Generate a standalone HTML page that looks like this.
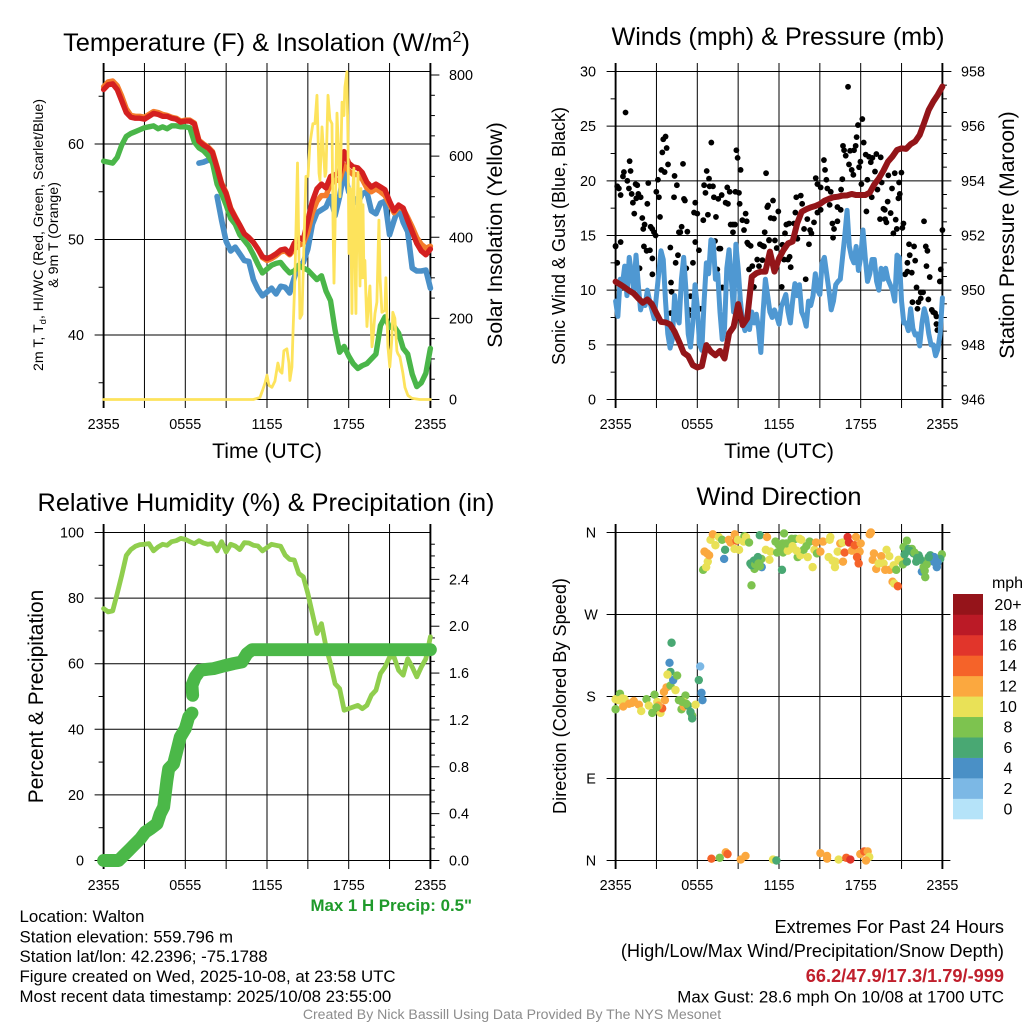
<!DOCTYPE html>
<html>
<head>
<meta charset="utf-8">
<title>Walton Mesonet Meteogram</title>
<style>
html,body{margin:0;padding:0;background:#fff;}
svg{display:block;font-family:"Liberation Sans",sans-serif;}
text{fill:#000;}
</style>
</head>
<body>
<svg id="chart" width="1024" height="1024" viewBox="0 0 1024 1024" xmlns="http://www.w3.org/2000/svg">
<rect x="0" y="0" width="1024" height="1024" fill="#fff"/>
<g id="temp-panel"></g>
<g id="wind-panel"></g>
<g id="rh-panel"></g>
<g id="dir-panel"></g>
<g id="legend"></g>

<text x="266.5" y="51" font-size="25.4" text-anchor="middle">Temperature (F) &amp; Insolation (W/m<tspan font-size="16" dy="-9">2</tspan><tspan dy="9">)</tspan></text>
<text x="778" y="45" font-size="25.2" text-anchor="middle">Winds (mph) &amp; Pressure (mb)</text>
<text x="266" y="511" font-size="25.3" text-anchor="middle">Relative Humidity (%) &amp; Precipitation (in)</text>
<text x="779" y="505" font-size="25.4" text-anchor="middle">Wind Direction</text>

<text x="267" y="458" font-size="21.2" text-anchor="middle">Time (UTC)</text>
<text x="779" y="458" font-size="21.2" text-anchor="middle">Time (UTC)</text>

<text transform="translate(43,235) rotate(-90)" font-size="14.15" text-anchor="middle">2m T, T<tspan font-size="9.5" dy="3">d</tspan><tspan dy="-3">, HI/WC (Red, Green, Scarlet/Blue)</tspan></text>
<text transform="translate(58,235) rotate(-90)" font-size="14.15" text-anchor="middle">&amp; 9m T (Orange)</text>
<text transform="translate(502,235) rotate(-90)" font-size="21.1" text-anchor="middle">Solar Insolation (Yellow)</text>
<text transform="translate(565,236) rotate(-90)" font-size="18" text-anchor="middle">Sonic Wind &amp; Gust (Blue, Black)</text>
<text transform="translate(1014,235) rotate(-90)" font-size="21.1" text-anchor="middle">Station Pressure (Maroon)</text>
<text transform="translate(43,696.5) rotate(-90)" font-size="21" text-anchor="middle">Percent &amp; Precipitation</text>
<text transform="translate(566,696) rotate(-90)" font-size="18.15" text-anchor="middle">Direction (Colored By Speed)</text>

<text x="472" y="911" font-size="16.85" font-weight="bold" text-anchor="end" style="fill:#1f9a2b">Max 1 H Precip: 0.5"</text>

<g font-size="16.85">
<text x="19.5" y="922">Location: Walton</text>
<text x="19.5" y="942.5">Station elevation: 559.796 m</text>
<text x="19.5" y="962">Station lat/lon: 42.2396; -75.1788</text>
<text x="19.5" y="982">Figure created on Wed, 2025-10-08, at 23:58 UTC</text>
<text x="19.5" y="1002">Most recent data timestamp: 2025/10/08 23:55:00</text>
</g>

<g font-size="18.2" text-anchor="end">
<text x="1004" y="933">Extremes For Past 24 Hours</text>
<text x="1004" y="957">(High/Low/Max Wind/Precipitation/Snow Depth)</text>
<text x="1004" y="982" font-weight="bold" style="fill:#c01f2c">66.2/47.9/17.3/1.79/-999</text>
<text x="1004" y="1002.5" font-size="16.9">Max Gust: 28.6 mph On 10/08 at 1700 UTC</text>
</g>
<text x="512" y="1019" font-size="14.08" text-anchor="middle" style="fill:#8c8c8c">Created By Nick Bassill Using Data Provided By The NYS Mesonet</text>
</svg>

<script>
// ---------- chart data ----------
const timeLabels = ['2355','0555','1155','1755','2355'];
const tempTicks = [60,50,40];
const solarTicks = [0,200,400,600,800];
const windTicks = [0,5,10,15,20,25,30];
const pressureTicks = [946,948,950,952,954,956,958];
const rhTicks = [0,20,40,60,80,100];
const rainTicks = [0,0.4,0.8,1.2,1.6,2.0,2.4];
const dirTicks = [0,90,180,270,360];
const dirTickLabels = ['N','E','S','W','N'];
const legendLabels = ['0','2','4','6','8','10','12','14','16','18','20+'];
const legendColors = ['#b5e3f9','#7cb8e5','#4a90c6','#49a873','#7dc34f','#e9e157','#fba83f','#f56329','#e1352b','#bb1a26','#95141a'];

const tempF = [65.7,66.2,66.3,65.7,64.5,63.3,62.8,62.7,62.7,62.6,62.9,63.2,63.1,62.9,62.9,62.7,62.6,62.3,62.4,62.4,62.1,60.3,59.9,59.6,59.1,57.5,55.8,54.8,53.2,52.3,51.5,50.6,50.2,49.7,49.0,48.2,48.0,48.2,48.5,48.9,49.0,48.5,49.6,50.2,50.0,52.0,54.0,55.3,55.8,55.4,56.6,56.8,57.0,59.2,58.0,57.6,57.5,57.0,56.0,55.5,55.8,55.5,55.2,54.0,53.0,53.6,53.3,52.0,50.8,49.6,48.8,48.4,49.0];
const temp9mF = [66.0,66.5,66.6,66.1,65.0,63.7,63.0,62.9,62.9,62.8,63.1,63.4,63.3,63.1,63.0,62.8,62.7,62.4,62.5,62.5,62.2,60.4,60.0,59.7,59.2,57.6,55.9,54.9,53.3,52.4,51.5,50.6,50.2,49.7,49.0,48.1,47.8,48.0,48.3,48.7,48.8,48.4,49.0,49.4,49.6,50.8,52.8,54.0,54.6,54.6,55.8,56.2,56.2,57.8,57.2,56.8,56.8,56.3,55.4,55.0,55.3,55.0,54.6,53.7,52.8,53.4,53.2,52.3,51.3,50.2,49.5,49.1,49.3];
const dewpointF = [58.2,58.1,58.0,58.6,59.9,60.8,61.1,61.3,61.5,61.7,61.8,61.9,61.6,61.8,61.6,61.9,61.9,61.8,61.8,61.7,60.2,59.6,59.3,58.8,58.0,55.8,54.8,53.6,52.2,51.6,50.5,49.9,49.3,48.4,47.4,46.5,46.9,47.3,47.5,47.6,47.0,46.5,46.7,47.3,47.0,46.8,46.3,45.8,46.2,44.6,43.6,40.5,38.2,38.8,37.8,37.0,36.5,36.8,37.0,37.5,38.0,41.0,41.9,40.8,40.9,40.2,38.6,38.0,35.9,34.6,35.0,36.0,38.6];
const windChillF = [null,null,null,null,null,null,null,null,null,null,null,null,null,null,null,null,null,null,null,null,null,58.0,58.1,58.3,null,54.5,52.0,49.8,48.8,49.2,48.5,47.8,47.7,45.8,44.8,44.1,44.5,44.9,44.3,45.1,45.0,44.4,46.0,47.3,47.6,49.0,51.6,52.8,53.1,53.4,54.5,52.5,54.5,57.2,55.0,54.4,53.8,54.8,55.0,53.0,52.7,53.8,54.0,50.5,52.0,53.4,51.8,50.8,47.0,46.7,46.7,46.8,44.9];

const solarHours = [0,11,11.48,11.7,11.85,12,12.14,12.36,12.58,12.8,12.95,13.1,13.24,13.46,13.61,13.68,13.83,13.9,14.05,14.24,14.42,14.57,14.71,14.86,15.01,15.15,15.37,15.52,15.67,15.82,15.89,16.04,16.26,16.33,16.48,16.62,16.77,16.85,16.92,16.99,17.14,17.21,17.36,17.51,17.65,17.72,17.87,17.95,18.02,18.1,18.16,18.24,18.31,18.38,18.46,18.53,18.61,18.68,18.76,18.83,18.9,18.97,19.05,19.12,19.19,19.26,19.34,19.48,19.56,19.71,19.78,19.93,20.07,20.22,20.3,20.44,20.66,20.73,20.88,21.02,21.17,21.24,21.39,21.54,21.61,21.76,21.98,22.13,22.35,22.64,23.22,24];
const solarWm2 = [0,0,5,25,40,60,35,30,45,90,70,65,120,125,90,47,80,155,300,583,200,210,380,550,550,630,680,680,750,558,540,672,550,560,750,690,680,430,287,410,706,650,500,733,700,770,808,632,360,520,430,212,520,570,350,212,450,560,420,280,520,300,480,300,343,260,180,250,280,130,150,212,240,442,300,215,220,300,130,80,150,215,200,120,113,105,65,30,10,3,0,0];

const sustainedWind = [9,7.6,11,10.5,12.2,9.5,13,11.5,10,13.2,10.5,8.2,9,8.6,10,9,8.2,7.4,9.5,11.5,13.6,12.8,9,6,4.7,5.5,9.5,7.5,7,11,13,10,6,4.8,7,10.5,8.5,5,4.5,9,12.5,11.5,14.6,14.5,11,11.5,8,5.5,6.5,12,13.7,11,8,14.2,12,9,7,6.3,7.5,6.4,8,7,7.8,6.5,4.3,8,11,9.5,8,7.5,8.2,7.6,6.9,8.5,9,9.6,8,7,9,10.6,9.5,10.5,8,7.5,6.7,9,8.6,9.5,11.5,10,9.6,12.5,13,11.5,10,8.2,9,10.5,10.8,11,13,15,17.3,14,13,12.5,14,11.8,13,15.5,13,10.8,11.5,12.8,12.8,10.8,10,12,11,12,11,10.5,10,9,13.2,13,9,7,7,6.3,8.3,6.5,5.9,6,4.9,7,8.3,7.5,6,5,5,4,4.6,6,9.3];
const stationPressure = [950.31,950.21,950.10,949.98,949.88,949.70,949.54,949.66,949.49,949.15,948.84,948.82,948.75,948.48,948.11,947.71,947.59,947.26,947.17,947.22,947.99,947.75,947.62,947.78,947.50,948.42,948.66,949.49,948.72,948.97,950.49,950.62,950.68,950.68,951.41,950.68,951.16,951.47,951.71,951.78,952.44,952.87,952.96,953.03,953.08,953.15,953.27,953.34,953.40,953.42,953.46,953.47,953.52,953.48,953.48,953.48,953.57,953.87,954.09,954.37,954.70,954.89,955.13,955.19,955.17,955.34,955.44,955.68,956.13,956.60,956.90,957.15,957.45];
const gustHours = [0,.37,.73,.12,.24,.37,.54,.61,.86,.98,1.03,1.1,1.18,1.27,1.37,1.47,1.59,1.52,1.67,1.84,1.96,2.03,2.13,2.4,2.33,2.57,2.69,2.82,2.94,2.99,3.11,3.18,3.26,3.36,3.43,3.5,3.67,3.75,3.6,3.85,4.33,4.5,4.29,4.95,5.02,5.09,4.85,4.65,4.75,5.27,5.85,5.76,6,6.44,6.5,6.69,6.86,6.6,6.78,6.9,7.03,7.15,7.22,7.37,7.54,7.79,8.08,8.25,8.2,8.38,8.45,8.62,8.62,8.77,8.87,8.96,9.18,8.8,9.06,9.11,9.31,9.55,9.63,9.43,9.67,9.92,10.6,10.9,10.95,11.05,11.14,11.2,11.56,11.39,11.63,11.27,11.7,11.95,11.83,12.25,12.44,12.54,12.74,13.1,13.2,13.27,13.6,13.7,13.35,13.84,14.08,14.2,14.28,14.38,14.57,14.7,14.82,15.06,14.82,15.06,15.3,15.38,15.48,15.55,15.8,15.72,15.92,16.04,15.97,16.29,16.29,16.53,16.56,16.65,16.7,16.78,16.9,17.07,17.14,17.22,17.34,17.46,17.51,17.63,17.7,17.8,17.88,17.98,18.05,18.12,18.22,18.37,18.42,18.49,18.61,18.74,18.81,18.86,19.05,19.15,19.23,19.47,19.42,19.54,19.67,19.77,19.79,19.89,19.98,20.03,20.2,20.3,20.4,20.5,20.57,20.65,20.77,20.82,20.87,20.99,21.06,21.14,22.65,24,
  0,.12,1.76,2.08,2.28,2.52,2.7,2.7,4.02,4.58,4.41,4.07,4.11,4.04,5.19,5.68,5.85,6.12,5.5,5.39,5.39,6.25,7.3,7.6,7.7,7.47,7.84,9.75,9.8,10.04,10.4,10.53,10.16,10.78,10.8,11.27,12.2,12.37,12.66,12.78,12.86,13.96,21.55,21.92,21.6,21.43,22,21.26,21.43,21.75,22.1,21.8,22.24,22.41,22.58,22.17,22.41,22.97,22.78,22.9,22.83,23.07,23.22,23.32,23.46,23.56,23.56,23.63,23.88,23.81];
const gustSpeeds = [14.05,14.4,26.25,19.5,19.3,18.7,20.4,20.8,20,19.3,21.8,20.9,18.8,18,17,19.7,19.6,18.4,18.8,18.5,16.6,15.6,16,19.8,17.9,15.8,15.6,15.3,15,19,20.1,18.5,16.7,21,22.6,23.8,24.05,23,20.8,21.5,20.45,19.6,18.5,21.55,18.35,18.2,15.8,15.3,15.3,15.35,18,17.1,17,16.4,19.6,20.9,20.2,18.9,16.9,19.5,23.5,19.5,18.5,16.7,18.35,18.7,18,17.9,19.4,19,16,16,15.3,16,22.8,22.1,21,19,18.9,17.9,16.4,17,16.3,15.5,14.35,14.05,14.2,14,15.3,20.7,17.6,17.75,18.2,16.6,16.55,14.55,14.55,17.2,13.85,14.15,15.2,16,16.1,16.1,17.1,18.5,18.65,17.9,14.7,15.6,16.5,14.2,15.5,15.2,16.2,20.25,19.7,19.4,17.1,17.35,21.9,21,20.1,19.3,19,17.8,16.1,15.6,14.8,16.3,17.6,17.35,19.2,20.15,23.2,22.8,22.3,28.6,21.5,22.75,21,20.55,22.8,23.2,24,25.1,21.25,21.75,19.7,25.65,23.5,22.4,17.2,20.1,22.2,21.7,18.5,22.1,20.85,22.45,19.2,22.15,16.5,19.85,17.45,17.35,16.5,16.2,18.1,20.5,17.05,19.3,15.2,20.7,16.45,15.6,18.4,19.85,18.8,20.75,15.7,16.1,16.3,15.5,
  14,12.5,12,14,13.6,13.65,12.9,11.45,13.9,13.2,12.5,10.7,9.85,7.9,12,12.5,14.4,13.65,9.45,8.2,7.7,8.3,14.5,13.8,13.8,11.9,10.25,14.2,11.9,12.2,12.8,12.2,10.3,12.75,14.05,14.6,10.3,12.8,12.8,13.05,12.1,11,14.2,14,13.2,12.5,12.7,11.45,11.7,11.6,10.25,8.9,8.9,9.8,9.8,8.3,9.25,9.15,14,13.6,12.2,11.2,8.2,8,7.9,7.6,6.9,6.35,11.9,10.8];

const rhPercent = [76.8,75.8,76.1,81.4,87,93,94.8,95.8,96.3,96.4,96.6,94.4,95.6,96.4,96.1,97.2,97.5,98.2,97.9,97.2,96.6,97.5,96.8,96.4,96.6,94.4,97.2,94.1,96.4,95.9,94.8,96.9,96.8,96.1,95.9,94.4,95.4,96.4,96.1,95.8,93.1,91.8,91.6,87.5,86.5,81.4,75.3,69.2,72.2,65.1,60,53.9,52.4,45.8,46.3,46.8,47.3,46.3,47.3,50.4,51.9,57,59,62,62,58,56.5,61.5,59,56,59,61.5,68.2];
const rainHours = [0,.37,.9,1.1,1.47,1.84,2.2,2.69,3.06,3.43,3.92,4.16,4.41,4.53,4.65,4.78,5.14,5.39,5.63,6,6.25,6.49,6.5,6.54,6.49,6.73,7.1,7.59,8.08,8.82,9.55,10.16,10.53,10.9,24];
const rainInches = [0,0,0,0,.043,.085,.128,.185,.242,.271,.313,.399,.456,.57,.684,.783,.826,.94,1.054,1.125,1.225,1.259,null,1.41,1.496,1.567,1.624,1.632,1.638,1.661,1.681,1.695,1.766,1.8,1.8];

const dirHours = [6.43,6.65,6.77,6.53,6.72,6.87,6.97,7.14,7.33,7.58,7.82,8.31,8.04,7.97,8.44,8.75,8.88,8.97,8.73,9.07,9.46,9.58,9.41,9.8,10.59,11.12,9.9,10.15,9.98,10.2,10.39,10.56,10.73,10.71,11.3,11.03,11.37,11.74,11.86,12.37,12.22,12.27,12.47,12.3,12.64,12.84,12.93,13.2,13.52,13.64,13.37,13.57,13.81,14.01,14.25,14.11,14.47,14.6,14.79,14.72,15.04,15.23,15.65,15.94,16.11,15.77,15.72,16.31,16.5,16.67,16.14,16.7,16.82,17.04,17.14,17.36,17.56,17.65,17.92,18,17.73,17.85,18.75,18.66,18.97,18.88,19.51,19.9,20.1,19.14,19.32,19.68,19.8,20.12,20.42,20.61,20.9,20.78,20.34,20.46,20.73,21.1,21.15,21.39,21.22,21.52,21.76,21.88,22.25,22.08,21.39,22.49,22.74,22.62,22.91,23.11,23.35,23.59,23.72,23.96,23.84,
  0,0,.32,.37,.66,.56,.98,1.34,1.71,1.88,2.27,2.44,2.69,2.86,3.06,3.3,3.42,3.62,3.55,3.74,4.03,4.23,4.4,4.11,3.96,4.03,3.81,4.52,4.65,4.84,5.01,5.13,5.31,5.01,5.62,5.62,5.87,6.11,6.21,6.31,6.38,
  7.04,7.65,8.09,8.22,9.19,9.54,11.56,11.81,15.04,15.53,15.53,16.38,16.94,17.24,17.97,18.26,18.51,18.63,18.39,
  10,10.1,10.25,10.3,10.45,10.5,10.6,23.25,23.45,23.55,23.65,23.4,22.3,22.4,22.7,22.85,23,12.55,12.1,11.95,13,13.3,21.6,21.95,22.15,
  .2,.5,1.2,3.15,4.9,5.2,5.5,3];
const dirDegrees = [319,322,328,339,337,335,352,358,346,355,352,352,341,331,349,358,351,352,342,341,356,355,350,349,357,355,326,329,302,320,331,328,322,331,330,341,339,350,338,359,319,348,345,338,340,342,353,353,353,352,333,335,341,345,350,333,322,341,337,349,339,350,333,329,322,355,352,339,348,349,328,328,338,355,349,340,346,355,339,348,333,326,360,358,337,330,334,341,334,320,326,326,319,319,324,319,329,330,306,304,301,325,344,351,336,342,342,337,335,328,328,317,311,322,330,335,328,322,330,336,331,
  166,177,183,176,177,169,172,175,171,164,177,170,162,182,174,162,167,176,185,190,192,198,187,239,217,207,204,203,176,166,169,181,170,174,159,156,171,198,213,184,176,
  2,3,9,7,1,5,1,0,8,5,2,1,3,1,7,10,10,4,0,
  324,327,325,330,333,326,323,332,330,326,327,333,333,330,318,325,333,348,344,347,345,340,340,338,332,
  176,178,173,170,174,172,163,168];
const dirSpeeds = [8,10,10,12,12,12,10,12,10,10,8,12,6,4,12,12,14,10,10,10,8,10,10,8,6,12,6,6,8,8,6,6,4,8,10,10,10,8,8,8,6,8,8,8,10,10,8,8,10,10,8,10,8,8,8,10,10,10,8,12,12,12,10,10,10,10,10,10,12,10,10,12,14,16,16,12,14,12,12,12,14,14,12,12,12,12,12,10,10,12,10,10,12,12,10,8,12,10,12,10,14,8,8,8,6,6,8,6,6,6,6,4,8,8,8,6,4,4,4,8,6,
  8,10,8,10,10,12,12,12,12,10,8,10,8,8,10,10,14,12,12,12,8,4,10,6,4,6,10,8,8,8,12,8,6,10,8,6,10,6,2,4,4,
  14,8,12,14,12,12,10,6,12,12,12,10,14,16,12,14,12,10,12,
  6,6,8,6,6,8,8,4,4,4,4,4,6,6,8,8,6,8,8,8,10,10,6,8,6,
  10,10,12,12,8,8,6,8];

// ---------- helpers ----------
const NS = 'http://www.w3.org/2000/svg';
function add(parent, tag, props) {
  const el = document.createElementNS(NS, tag);
  for (const k in props) el.setAttribute(k, props[k]);
  parent.appendChild(el);
  return el;
}
function scale(d0, d1, r0, r1) { return v => r0 + (v - d0) * (r1 - r0) / (d1 - d0); }
function pathFrom(xs, ys) {
  let d = '', pen = false;
  for (let i = 0; i < ys.length; i++) {
    if (ys[i] === null) { pen = false; continue; }
    d += (pen ? 'L' : 'M') + xs(i).toFixed(2) + ' ' + ys[i].toFixed(2);
    pen = true;
  }
  return d;
}
function drawLine(parent, name, xAt, values, yFn, color, width) {
  const ys = values.map(v => v === null ? null : yFn(v));
  const el = add(parent, 'path', {d: pathFrom(xAt, ys), fill: 'none', stroke: color, 'stroke-width': width, 'stroke-linejoin': 'round', 'stroke-linecap': 'round'});
  
  
  return el;
}
function tickLine(parent, x1, y1, x2, y2, w) {
  const el = add(parent, 'line', {x1: x1, y1: y1, x2: x2, y2: y2, stroke: '#000', 'stroke-width': w || 1});
  
  
  return el;
}
function label(parent, x, y, str, anchor) {
  const el = add(parent, 'text', {x: x, y: y, 'font-size': 14.4, 'text-anchor': anchor});
  el.textContent = str;
  
  
  return el;
}
const PW = 326.8, DX = PW / 8;
function frame(g, L, T, B, xLabelY) {
  const R = L + PW;
  for (let i = 0; i <= 8; i++) {
    const x = L + DX * i;
    tickLine(g, x, T - 8.5, x, B + 8.5, (i === 0 || i === 8) ? 1.9 : 1);
  }
  tickLine(g, L, T, R, T, 1);
  tickLine(g, L, B, R, B, 1);
  timeLabels.forEach((t, i) => label(g, L + DX * 2 * i, xLabelY, t, 'middle'));
  return R;
}
function stepX(L, n) { return i => L + PW * i / (n - 1); }

const T1 = 71.5, B1 = 399.5, T2 = 532.5, B2 = 860.5, LA = 103.6, LB = 615.6;

// ---------- temperature panel ----------
(function () {
  const g = document.getElementById('temp-panel');
  const R = frame(g, LA, T1, B1, 429);
  const yT = scale(60, 50, 144, 239.5);
  const yS = scale(0, 800, B1, 75);
  tempTicks.forEach(v => { tickLine(g, LA - 9, yT(v), R, yT(v)); label(g, 84, yT(v) + 5, String(v), 'end'); });
  [65, 55, 45, 35].forEach(v => tickLine(g, LA - 5, yT(v), LA, yT(v)));
  solarTicks.forEach(v => { tickLine(g, R, yS(v), R + 9, yS(v)); label(g, 449, yS(v) + 5, String(v), 'start'); });
  [50,100,150,250,300,350,450,500,550,650,700,750].forEach(v => tickLine(g, R, yS(v), R + 4.5, yS(v)));
  const x73 = stepX(LA, 73);
  drawLine(g, 'wind-chill-line', x73, windChillF, yT, '#4a90c8', 5.6);
  drawLine(g, 'dewpoint-line', x73, dewpointF, yT, '#4ab649', 5.4);
  drawLine(g, 'temperature-9m-line', x73, temp9mF, yT, '#f47c2c', 5.4);
  drawLine(g, 'temperature-2m-line', x73, tempF, yT, '#d42020', 5.4);
  const xH = scale(0, 24, LA, R);
  drawLine(g, 'solar-insolation-line', i => xH(solarHours[i]), solarWm2, yS, '#fde35c', 2.8);
})();

// ---------- wind panel ----------
(function () {
  const g = document.getElementById('wind-panel');
  const R = frame(g, LB, T1, B1, 429);
  const yW = scale(0, 30, B1, T1);
  const yP = scale(946, 958, B1, T1);
  windTicks.forEach(v => { tickLine(g, LB - 9, yW(v), R + 9, yW(v)); label(g, 596, yW(v) + 5, String(v), 'end'); });
  pressureTicks.forEach(v => label(g, 961, yP(v) + 5, String(v), 'start'));
  for (let v = 2.5; v < 30; v += 5) tickLine(g, LB - 5, yW(v), LB, yW(v));
  for (let v = 946.5; v < 958; v += 0.5) if (v % 2 !== 0) tickLine(g, R, yP(v), R + 4.5, yP(v));
  const xH = scale(0, 24, LB, R);
  gustHours.forEach((h, i) => {
    const c = add(g, 'circle', {cx: xH(h), cy: yW(gustSpeeds[i]), r: 2.9, fill: '#000'});
    
    
  });
  drawLine(g, 'sonic-wind-line', stepX(LB, 145), sustainedWind, yW, '#4f98d2', 5);
  drawLine(g, 'station-pressure-line', stepX(LB, 73), stationPressure, yP, '#931519', 6);
})();

// ---------- humidity panel ----------
(function () {
  const g = document.getElementById('rh-panel');
  const R = frame(g, LA, T2, B2, 890);
  const yR = scale(0, 100, B2, T2);
  const yI = scale(0, 2.8, B2, T2);
  rhTicks.forEach(v => { tickLine(g, LA - 9, yR(v), R, yR(v)); label(g, 84, yR(v) + 5, String(v), 'end'); });
  [10,30,50,70,90].forEach(v => tickLine(g, LA - 5, yR(v), LA, yR(v)));
  rainTicks.forEach(v => { tickLine(g, R, yI(v), R + 9, yI(v)); label(g, 449, yI(v) + 5, v.toFixed(1), 'start'); });
  for (let k = 1; k < 28; k++) if (k % 4 !== 0) tickLine(g, R, yI(k / 10), R + 4.5, yI(k / 10));
  drawLine(g, 'relative-humidity-line', stepX(LA, 73), rhPercent, yR, '#90ce4e', 4.8);
  const xH = scale(0, 24, LA, R);
  drawLine(g, 'precipitation-line', i => xH(rainHours[i]), rainInches, yI, '#4bb848', 12.9);
})();

// ---------- wind direction panel ----------
(function () {
  const g = document.getElementById('dir-panel');
  const R = frame(g, LB, T2, B2, 890);
  const yD = scale(0, 360, B2, T2);
  dirTicks.forEach((v, i) => { tickLine(g, LB - 9, yD(v), R + 8, yD(v)); label(g, 591, yD(v) + 5, dirTickLabels[i], 'middle'); });
  const xH = scale(0, 24, LB, R);
  dirHours.forEach((h, i) => {
    const c = add(g, 'circle', {cx: xH(h), cy: yD(dirDegrees[i]), r: 4.2, fill: legendColors[Math.min(10, Math.floor(dirSpeeds[i] / 2))]});
    
    
  });
})();

// ---------- speed legend ----------
(function () {
  const g = document.getElementById('legend');
  const bh = 225 / 11;
  legendLabels.forEach((t, i) => {
    const y = 819 - bh * (i + 1);
    const r = add(g, 'rect', {x: 953, y: y, width: 30, height: bh + 0.3, fill: legendColors[i]});
    
    
    const el = add(g, 'text', {x: 1008, y: y + bh / 2 + 5.6, 'font-size': 16, 'text-anchor': 'middle'});
    el.textContent = t;
    
    
  });
  const u = add(g, 'text', {x: 1007.5, y: 588, 'font-size': 16, 'text-anchor': 'middle'});
  u.textContent = 'mph';
  
  
})();
</script>
</body>
</html>
